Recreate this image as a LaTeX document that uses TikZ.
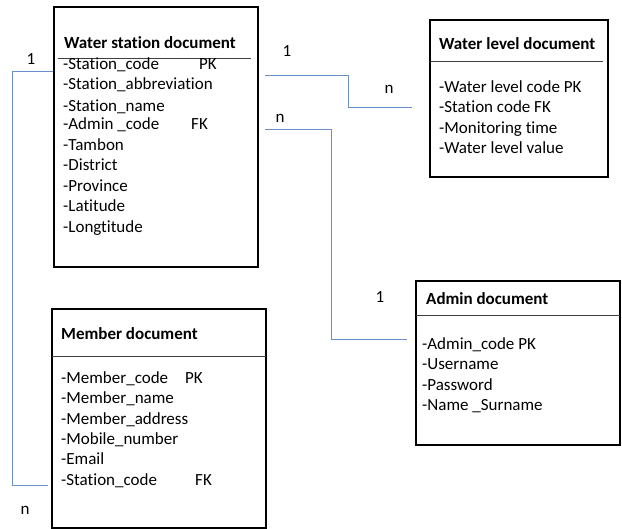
\documentclass[tikz,border=0pt]{standalone}
\usepackage{fontspec}
\setmainfont{Carlito}[Ligatures={NoCommon}]
\definecolor{lineblue}{HTML}{6A8FCB}
\begin{document}
\begin{tikzpicture}[x=1pt,y=-1pt,
 box/.style={draw=black,line width=2.4pt,inner sep=0pt},
 sepline/.style={draw=black!75,line width=0.9pt},
 conn/.style={draw=lineblue,line width=0.9pt},
 txt/.style={anchor=base west,inner sep=0pt,font=\fontsize{17}{20}\selectfont},
 ttl/.style={anchor=base west,inner sep=0pt,font=\fontsize{17}{20}\selectfont\bfseries},
 lbl/.style={anchor=base,inner sep=0pt,font=\fontsize{17}{20}\selectfont}]
\useasboundingbox (0,0) rectangle (622,529);

% boxes
\node[box,minimum width=204pt,minimum height=260pt] (ws) at (156,137) {};
\node[box,minimum width=178pt,minimum height=157pt] (wl) at (519,98.5) {};
\node[box,minimum width=204pt,minimum height=164pt] (ad) at (518,363) {};
\node[box,minimum width=214pt,minimum height=219pt] (mb) at (159,418.5) {};

% separators
\draw[sepline] (58,58) -- (251,58);
\draw[sepline] (431,61) -- (603,61);
\draw[sepline] (416,315) -- (620,315);
\draw[sepline] (52,356) -- (266,356);

% Water station document
\node[ttl] (wst) at (64,49) {Water station document};
\node[txt] (ws1) at (63,69.5) {-Station\_code};
\node[txt] (ws1k) at (199,69.5) {PK};
\node[txt] (ws2) at (63,90) {-Station\_abbreviation};
\node[txt] (ws3) at (63,112) {-Station\_name};
\node[txt] (ws4) at (63,130) {-Admin \_code};
\node[txt] (ws4k) at (191,130) {FK};
\node[txt] (ws5) at (63,150.5) {-Tambon};
\node[txt] (ws6) at (63,171) {-District};
\node[txt] (ws7) at (63,191.5) {-Province};
\node[txt] (ws8) at (63,212) {-Latitude};
\node[txt] (ws9) at (63,232.5) {-Longtitude};

% Water level document
\node[ttl] (wlt) at (439,50) {Water level document};
\node[txt] (wl1) at (439,93) {-Water level code PK};
\node[txt] (wl2) at (439,113) {-Station code FK};
\node[txt] (wl3) at (439,133.5) {-Monitoring time};
\node[txt] (wl4) at (439,154) {-Water level value};

% Admin document
\node[ttl] (adt) at (426,305) {Admin document};
\node[txt] (ad1) at (422,349.5) {-Admin\_code PK};
\node[txt] (ad2) at (422,370) {-Username};
\node[txt] (ad3) at (422,390.5) {-Password};
\node[txt] (ad4) at (422,411) {-Name \_Surname};

% Member document
\node[ttl] (mbt) at (61,340) {Member document};
\node[txt] (mb1) at (61,384) {-Member\_code};
\node[txt] (mb1k) at (185,384) {PK};
\node[txt] (mb2) at (61,404) {-Member\_name};
\node[txt] (mb3) at (61,424.5) {-Member\_address};
\node[txt] (mb4) at (61,444.5) {-Mobile\_number};
\node[txt] (mb5) at (61,465) {-Email};
\node[txt] (mb6) at (61,485.5) {-Station\_code};
\node[txt] (mb6k) at (195,485.5) {FK};

% cardinality labels
\node[lbl] (c1) at (31,65) {1};
\node[lbl] (c2) at (25,515) {n};
\node[lbl] (c3) at (287,57) {1};
\node[lbl] (c4) at (389,94) {n};
\node[lbl] (c5) at (280,123) {n};
\node[lbl] (c6) at (380,303) {1};

% connector end points
\coordinate (s0) at (53,71);
\coordinate (e0) at (48,485);
\coordinate (s1) at (265,75);
\coordinate (e1) at (412,107);
\coordinate (s2) at (265,129);
\coordinate (e2) at (407,339);

\draw[conn] (s0) -- ++(-41,0) |- (e0);
\draw[conn] (s1) -- ++(83,0) |- (e1);
\draw[conn] (s2) -- ++(66,0) |- (e2);
\end{tikzpicture}
\end{document}
